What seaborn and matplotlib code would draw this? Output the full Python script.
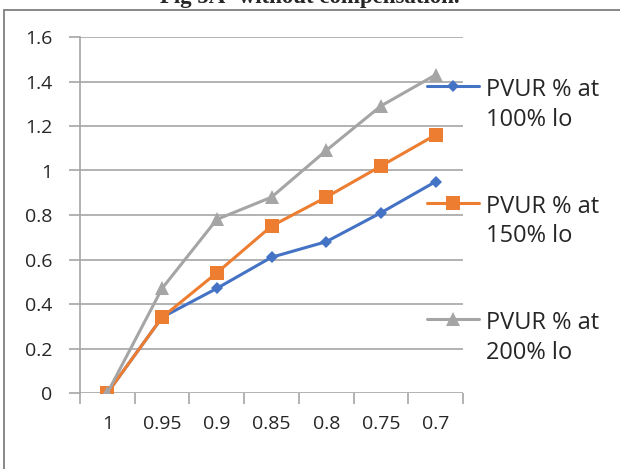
import matplotlib
matplotlib.use("Agg")
import matplotlib.pyplot as plt
import seaborn as sns
import pandas as pd
from matplotlib.patches import Rectangle

categories = ["1", "0.95", "0.9", "0.85", "0.8", "0.75", "0.7"]
pvur_100 = [0, 0.34, 0.47, 0.61, 0.68, 0.81, 0.95]
pvur_150 = [0, 0.34, 0.54, 0.75, 0.88, 1.02, 1.16]
pvur_200 = [0, 0.47, 0.78, 0.88, 1.09, 1.29, 1.43]
series_names = ["PVUR % at\n100% lo", "PVUR % at\n150% lo", "PVUR % at\n200% lo"]
y_ticks = [0, 0.2, 0.4, 0.6, 0.8, 1, 1.2, 1.4, 1.6]
y_tick_labels = ["0", "0.2", "0.4", "0.6", "0.8", "1", "1.2", "1.4", "1.6"]
title = "Fig 5A- without compensation."

sns.set_theme(style="white")
plt.rcParams["font.family"] = ["Open Sans", "DejaVu Sans"]

rows = []
for name, vals in zip(series_names, [pvur_100, pvur_150, pvur_200]):
    for i, (c, v) in enumerate(zip(categories, vals)):
        rows.append({"pos": i, "cat": c, "value": v, "series": name})
df = pd.DataFrame(rows)

colors = ["#4472C4", "#ED7D31", "#A5A5A5"]
markers = {series_names[0]: "D", series_names[1]: "s", series_names[2]: "^"}
msizes = {series_names[0]: 6, series_names[1]: 10.5, series_names[2]: 10.5}

fig = plt.figure(figsize=(6.2, 4.69), dpi=100)
ax = fig.add_axes([80 / 620, 1 - 393 / 469, (463 - 80) / 620, (393 - 37) / 469])

for name, col in zip(series_names, colors):
    sub = df[df["series"] == name]
    sns.lineplot(data=sub, x="pos", y="value", color=col, linewidth=2.2,
                 marker=markers[name], markersize=msizes[name],
                 markeredgewidth=0, markeredgecolor=col, label=name, ax=ax,
                 zorder=3)

ax.set_xlim(-0.5, len(categories) - 0.5)
ax.set_ylim(0, 1.6)
ax.set_xlabel("")
ax.set_ylabel("")

gridc = "#A6A6A6"
txtc = "#262626"
ax.set_yticks(y_ticks)
ax.set_yticklabels(y_tick_labels)
ax.yaxis.grid(True, color=gridc, linewidth=1.2, zorder=0)
ax.set_axisbelow(True)
ax.tick_params(axis="y", length=8, width=1.2, color=gridc, pad=12,
               labelsize=14, labelcolor=txtc, left=True)
ax.set_xticks(range(len(categories)))
ax.set_xticklabels(categories)
ax.set_xticks([i - 0.5 for i in range(len(categories) + 1)], minor=True)
ax.tick_params(axis="x", which="major", length=0, pad=16, labelsize=14,
               labelcolor=txtc)
ax.tick_params(axis="x", which="minor", length=8, width=1.2, color=gridc,
               bottom=True)
for s in ["top", "right", "bottom"]:
    ax.spines[s].set_visible(False)
ax.spines["left"].set_color(gridc)
ax.spines["left"].set_linewidth(1.2)

leg = ax.legend(loc="upper left", bbox_to_anchor=(427 / 620, 1 - 78 / 469),
                bbox_transform=fig.transFigure, frameon=False,
                fontsize=17, handlelength=2.2, handletextpad=0.28,
                labelspacing=2.65, borderaxespad=0, borderpad=0)
for t in leg.get_texts():
    t.set_linespacing(1.33)
    t.set_color(txtc)
for col in leg._legend_handle_box.get_children():
    for row in col.get_children():
        row.align = "top"

fig.patches.append(Rectangle((4 / 620, -0.1), 1.2, 1 - 10 / 469 + 0.1,
                             transform=fig.transFigure, fill=False,
                             edgecolor="#7F7F7F", linewidth=1.3))
fig.text(0.5, 1 - 3 / 469, title, ha="center", va="baseline",
         family="Liberation Serif", fontweight="bold", fontsize=16.5)

fig.savefig("out.png", dpi=100)
